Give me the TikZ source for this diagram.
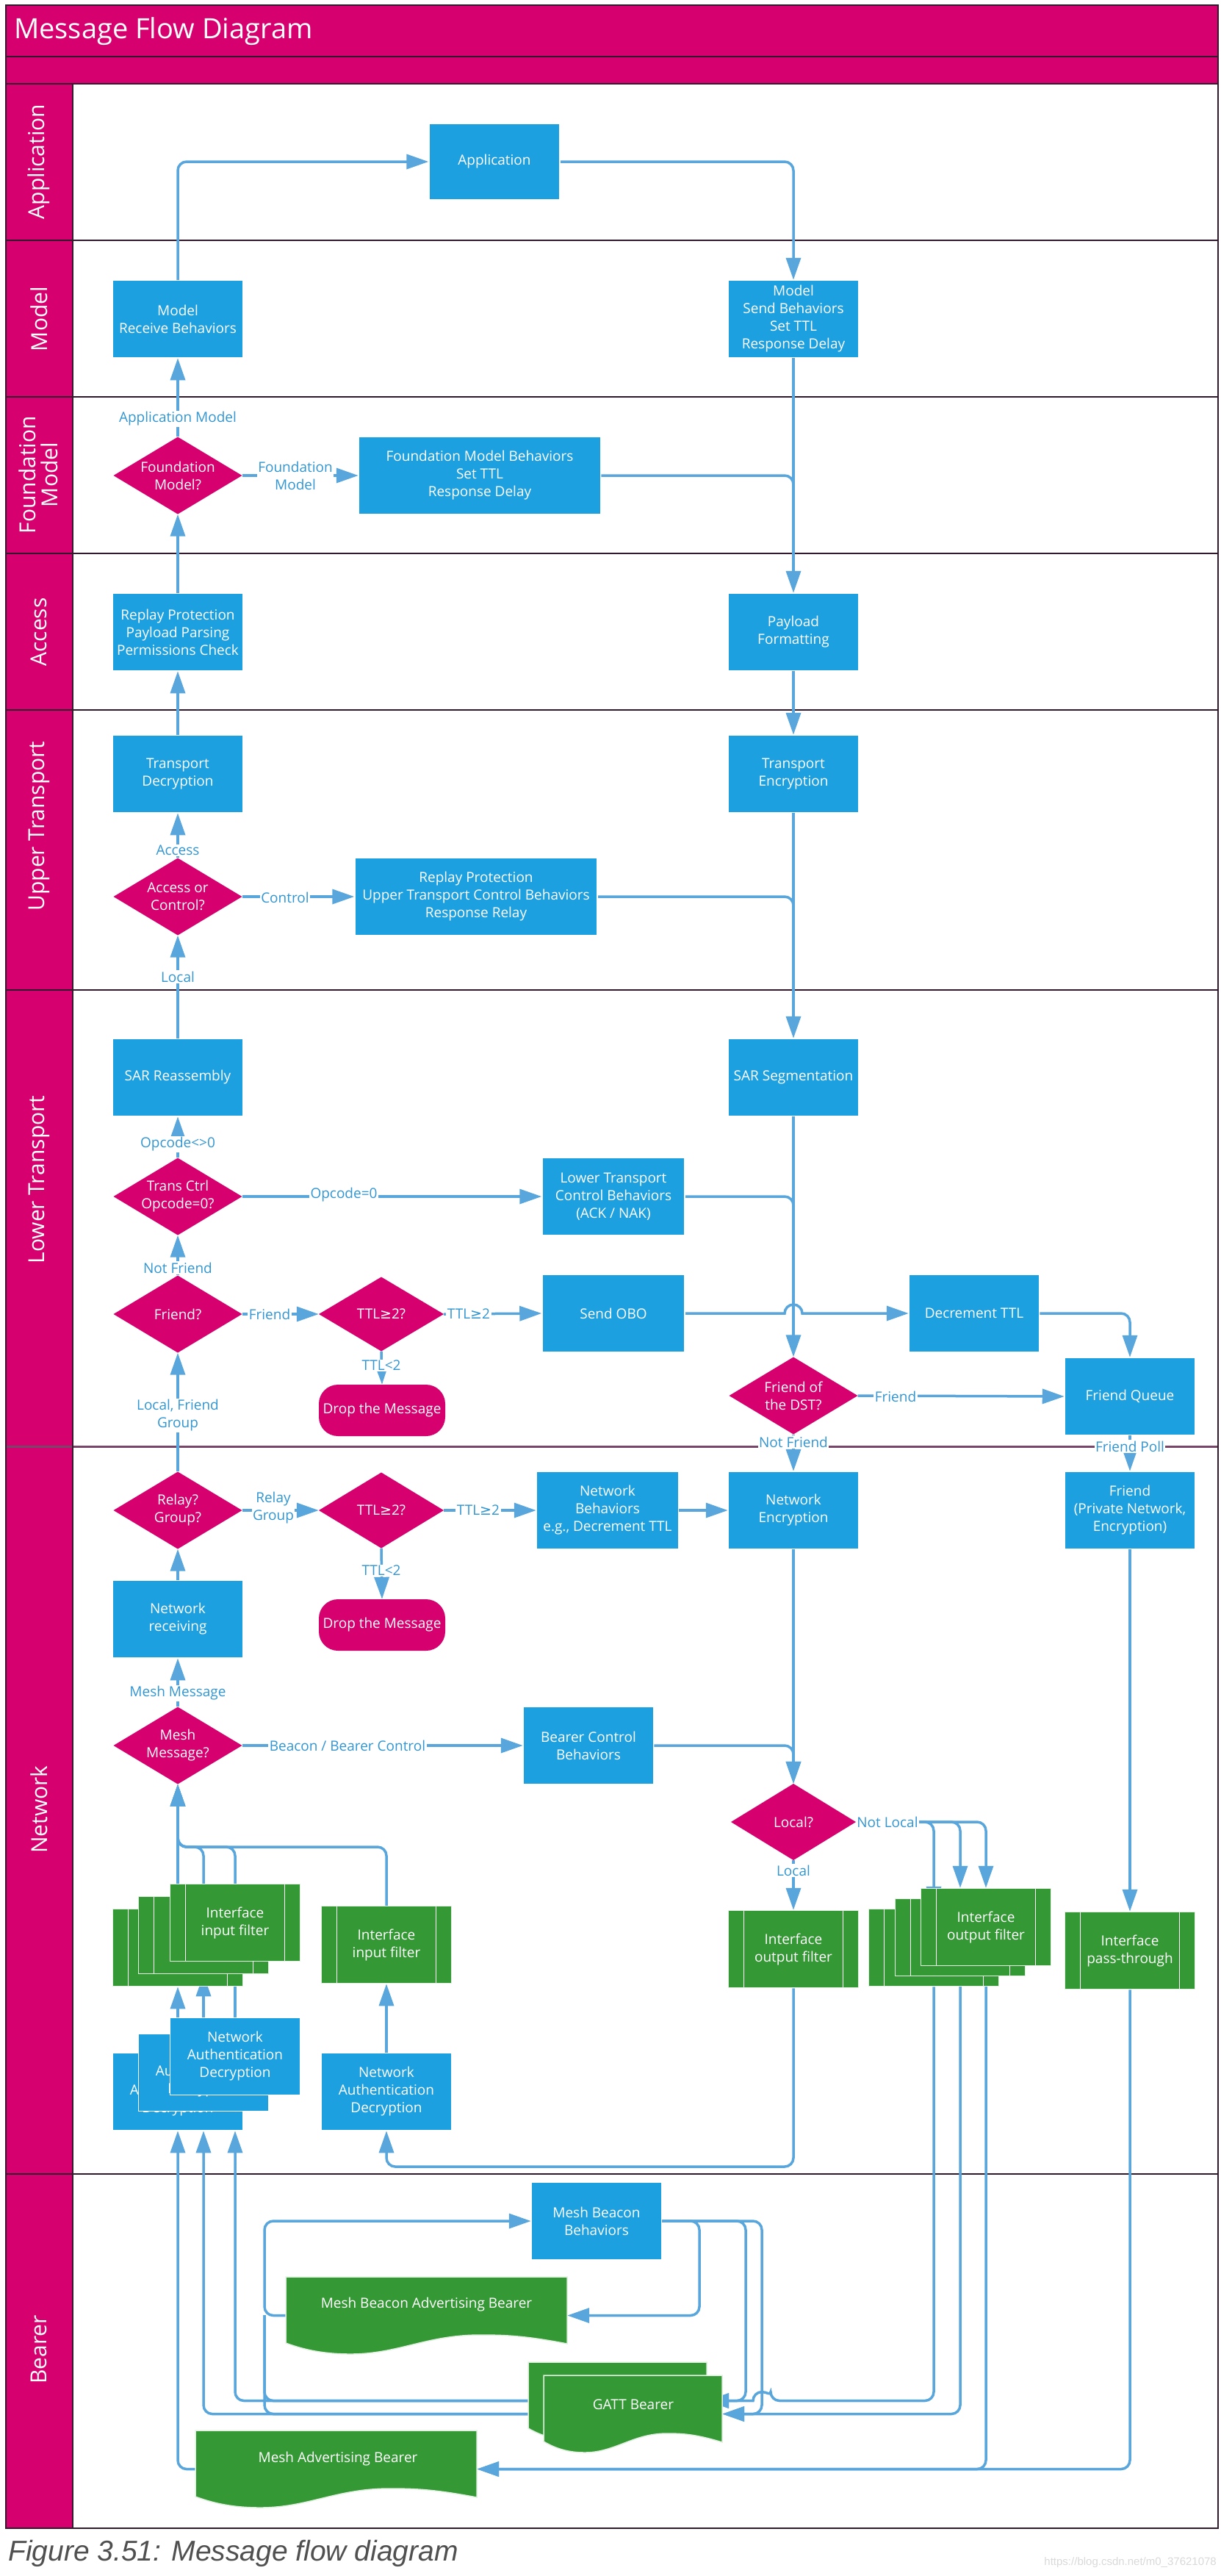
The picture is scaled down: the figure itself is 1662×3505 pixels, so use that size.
\documentclass[tikz,border=0pt]{standalone}
\usepackage{fontspec}
\setmainfont{Open Sans}
\newfontfamily\mycap{Liberation Sans}
\newfontfamily\mysym{DejaVu Sans}
\usetikzlibrary{arrows.meta}
\definecolor{cmag}{RGB}{214,0,111}
\definecolor{cblue}{RGB}{28,160,224}
\definecolor{cgreen}{RGB}{52,152,52}
\definecolor{cline}{RGB}{88,166,220}
\definecolor{clab}{RGB}{50,150,210}
\definecolor{clane}{RGB}{50,25,45}
\definecolor{clane2}{RGB}{120,70,105}
\definecolor{ccap}{RGB}{80,80,80}
\pgfdeclarelayer{bg}
\pgfdeclarelayer{edges}
\pgfsetlayers{bg,edges,main}
\newcommand\myNF{\fontsize{19}{24}\selectfont}
\newcommand\myLF{\fontsize{30}{30}\selectfont}
\newcommand\myge{{\mysym ≥}}
\newcommand\mydoc[3]{\begin{scope}[shift={(#1,#2)}]\fill[cgreen,draw=white!85!cgreen,line width=1.5pt] (0,0) -- (#3,0) -- (#3,91) .. controls (0.85*#3,80) and (0.78*#3,79) .. (0.69*#3,79) .. controls (0.5*#3,79) and (0.4*#3,105) .. (0.23*#3,105) .. controls (0.12*#3,105) and (0.05*#3,97) .. (0,90) -- cycle;\end{scope}}
\tikzset{
  box/.style={rectangle, fill=cblue, draw=white, line width=1.5pt, text=white, minimum width=177pt, minimum height=105pt, inner sep=1pt, align=center, font=\myNF},
  dia/.style={rectangle, minimum width=175pt, minimum height=105pt, inner sep=0pt, align=center, text=white, font=\myNF,
    path picture={\fill[cmag] (path picture bounding box.north) -- (path picture bounding box.east) -- (path picture bounding box.south) -- (path picture bounding box.west) -- cycle;}},
  gbox/.style={box, fill=cgreen, draw=white!85!cgreen,
    path picture={\draw[white, line width=1.5pt] ([xshift=21pt]path picture bounding box.north west) -- ([xshift=21pt]path picture bounding box.south west) ([xshift=-21pt]path picture bounding box.north east) -- ([xshift=-21pt]path picture bounding box.south east);}},
  term/.style={rectangle, rounded corners=26pt, fill=cmag, text=white, minimum width=172pt, minimum height=70pt, font=\myNF, inner sep=1pt},
  ghost/.style={rectangle, inner sep=0pt, minimum height=105pt},
  doctext/.style={text=white, font=\myNF, inner sep=0pt},
  con/.style={draw=cline, line width=3.5pt, rounded corners=12pt},
  arr/.style={con, -{Triangle[length=30pt,width=20pt]}},
  elab/.style={fill=white, text=clab, font=\myNF, inner sep=1.5pt, align=center},
  lane/.style={text=white, font=\myLF, rotate=90, align=center, inner sep=0pt}
}
\begin{document}
\begin{tikzpicture}[x=1pt,y=-1pt]
\useasboundingbox (0,0) rectangle (1662,3505);
\begin{pgfonlayer}{bg}
\fill[white] (0,0) rectangle (1662,3505);
\fill[cmag] (8,7) rectangle (1658,114);
\fill[cmag] (8,114) rectangle (99,3440);
\foreach \yy in {77,114,327,540,753,966,1347,2958} \draw[clane, line width=2pt] (8,\yy) -- (1658,\yy);
\draw[clane2, line width=3pt] (8,1968) -- (1658,1968);
\draw[clane, line width=2pt] (99,114) -- (99,3440);
\draw[clane, line width=2pt] (8,7) rectangle (1658,3440);
\end{pgfonlayer}

% title, lanes
\node[anchor=west, inner sep=0pt, text=white, font=\fontsize{38}{40}\selectfont] (title) at (19,43) {Message Flow Diagram};
\node[lane] (l1) at (53,220) {Application};
\node[lane] (l2) at (53,434) {Model};
\node[lane] (l3) at (52,646) {Foundation\\Model};
\node[lane] (l4) at (53,860) {Access};
\node[lane] (l5) at (53,1124) {Upper Transport};
\node[lane] (l6) at (53,1605) {Lower Transport};
\node[lane] (l7) at (53,2462) {Network};
\node[lane] (l8) at (53,3197) {Bearer};

% nodes
\node[box, minimum width=178pt, minimum height=104pt] (app) at (673,220) {Application};
\node[box] (mrecv) at (242,434) {Model\\Receive Behaviors};
\node[box] (msend) at (1080,434) {Model\\Send Behaviors\\Set TTL\\Response Delay};
\node[dia] (fmq) at (242,647) {Foundation\\Model?};
\node[box, minimum width=329pt] (fmb) at (653,647) {Foundation Model Behaviors\\Set TTL\\Response Delay};
\node[box] (replay) at (242,860) {Replay Protection\\Payload Parsing\\Permissions Check};
\node[box] (payload) at (1080,860) {Payload\\Formatting};
\node[box] (tdec) at (242,1053) {Transport\\Decryption};
\node[box] (tenc) at (1080,1053) {Transport\\Encryption};
\node[dia] (aoc) at (242,1220) {Access or\\Control?};
\node[box, minimum width=330pt] (utc) at (648,1220) {Replay Protection\\Upper Transport Control Behaviors\\Response Relay};
\node[box] (sarr) at (242,1466) {SAR Reassembly};
\node[box] (sars) at (1080,1466) {SAR Segmentation};
\node[dia] (tco) at (242,1628) {Trans Ctrl\\Opcode=0?};
\node[box, minimum width=194pt] (ltc) at (835,1628) {Lower Transport\\Control Behaviors\\(ACK / NAK)};
\node[dia] (friend) at (242,1788) {Friend?};
\node[dia, minimum width=170pt, minimum height=101pt] (ttl1) at (519,1788) {TTL\myge2?};
\node[box, minimum width=194pt] (obo) at (835,1787) {Send OBO};
\node[box] (dttl) at (1326,1787) {Decrement TTL};
\node[term] (drop1) at (520,1919) {Drop the Message};
\node[dia] (fdst) at (1080,1899) {Friend of\\the DST?};
\node[box] (fq) at (1538,1900) {Friend Queue};
\node[dia] (relay) at (242,2055) {Relay?\\Group?};
\node[dia, minimum width=170pt, minimum height=103pt] (ttl2) at (519,2055) {TTL\myge2?};
\node[box, minimum width=193pt] (nb) at (827,2055) {Network\\Behaviors\\e.g., Decrement TTL};
\node[box] (nenc) at (1080,2055) {Network\\Encryption};
\node[box] (fr) at (1538,2055) {Friend\\(Private Network,\\Encryption)};
\node[box] (nrecv) at (242,2203) {Network\\receiving};
\node[term] (drop2) at (520,2211) {Drop the Message};
\node[dia] (mesh) at (242,2375) {Mesh\\Message?};
\node[box] (bcb) at (801,2375) {Bearer Control\\Behaviors};
\node[dia, minimum width=170pt, minimum height=104pt] (local) at (1080,2479) {Local?};
\node[gbox] (outs) at (1080,2652) {Interface\\output filter};
\node[gbox] (ob) at (1271,2650) {};
\node[gbox] (om) at (1307,2636) {};
\node[gbox] (of) at (1342,2622) {Interface\\output filter};
\node[gbox] (pt) at (1538,2654) {Interface\\pass-through};
\node[gbox] (ib) at (242,2650) {};
\node[gbox] (im) at (277,2633) {};
\node[gbox] (inf) at (320,2616) {Interface\\input filter};
\node[gbox] (is) at (526,2646) {Interface\\input filter};
\node[box] (nab) at (242,2846) {Network\\Authentication\\Decryption};
\node[box] (nam) at (277,2820) {Network\\Authentication\\Decryption};
\node[box] (naf) at (320,2798) {Network\\Authentication\\Decryption};
\node[box] (nas) at (526,2846) {Network\\Authentication\\Decryption};
\node[box] (mbb) at (812,3022) {Mesh Beacon\\Behaviors};
\mydoc{389}{3098}{383}
\node[ghost, minimum width=383pt] (mbab) at (580.5,3150.5) {};
\node[doctext] (mbabt) at (580.5,3136) {Mesh Beacon Advertising Bearer};
\mydoc{719}{3214}{243}
\node[ghost, minimum width=243pt] (gattb) at (840.5,3266.5) {};
\mydoc{740}{3232}{243}
\node[ghost, minimum width=243pt] (gattf) at (861.5,3284.5) {};
\node[doctext] (gattt) at (862,3272) {GATT Bearer};
\mydoc{266}{3307}{383}
\node[ghost, minimum width=383pt] (mab) at (457.5,3359.5) {};
\node[doctext] (mabt) at (460,3346) {Mesh Advertising Bearer};

% connectors
\begin{pgfonlayer}{edges}
\draw[arr] (mrecv.north) |- (app.west);
\draw[arr] (app.east) -| (msend.north);
\draw[arr] (fmq.north) -- (mrecv.south);
\draw[arr] (fmq.east) -- (fmb.west);
\draw[con] (fmb.east) -| (1080,700);
\draw[arr] (msend.south) -- (payload.north);
\draw[arr] (replay.north) -- (fmq.south);
\draw[arr] (tdec.north) -- (replay.south);
\draw[arr] (payload.south) -- (tenc.north);
\draw[arr] (aoc.north) -- (tdec.south);
\draw[arr] (aoc.east) -- (utc.west);
\draw[con] (utc.east) -| (1080,1270);
\draw[arr] (tenc.south) -- (sars.north);
\draw[arr] (sarr.north) -- (aoc.south);
\draw[arr] (tco.north) -- (sarr.south);
\draw[arr] (tco.east) -- (ltc.west);
\draw[con] (ltc.east) -| (1080,1680);
\draw[arr] (sars.south) -- (fdst.north);
\draw[arr] (friend.north) -- (tco.south);
\draw[arr] (friend.east) -- (ttl1.west);
\draw[arr] (ttl1.east) -- (obo.west);
\draw[arr] (ttl1.south) -- (drop1.north);
\draw[arr, sharp corners] (obo.east) -- (1068,1787) arc[start angle=180, end angle=360, radius=12] -- (dttl.west);
\draw[arr] (dttl.east) -| (fq.north);
\draw[arr] (fdst.east) -- (fq.west);
\draw[arr] (fdst.south) -- (nenc.north);
\draw[arr] (fq.south) -- (fr.north);
\draw[arr] (relay.north) -- (friend.south);
\draw[arr] (relay.east) -- (ttl2.west);
\draw[arr] (ttl2.east) -- (nb.west);
\draw[arr] (ttl2.south) -- (drop2.north);
\draw[arr] (nb.east) -- (nenc.west);
\draw[arr] (nrecv.north) -- (relay.south);
\draw[arr] (mesh.north) -- (nrecv.south);
\draw[arr] (mesh.east) -- (bcb.west);
\draw[arr] (bcb.east) -| (local.north);
\draw[arr] (nenc.south) -- (local.north);
\draw[arr] (local.south) -- (outs.north);
\draw[arr] (local.east) -| (ob.north);
\draw[arr] (local.east) -| (om |- of.north);
\draw[arr] (local.east) -| (of.north);
\draw[arr] (fr.south) -- (pt.north);
\draw[arr] (ib.north) -- (mesh.south);
\draw[arr] (im.north) -- (277,2513) -- (242,2513) -- (mesh.south);
\draw[arr] (inf.north) -- (320,2513) -- (242,2513) -- (mesh.south);
\draw[arr] (is.north) -- (526,2513) -- (242,2513) -- (mesh.south);
\draw[arr] (nab.north) -- (ib.south);
\draw[arr] (nam.north) -- (im.south);
\draw[arr] (naf.north) -- (inf.south);
\draw[arr] (nas.north) -- (is.south);
\draw[arr] (outs.south) -- (1080,2948) -- (526,2948) -- (nas.south);
\draw[arr] (mab.west) -| (nab.south);
\draw[arr] (gattf.west) -| (nam |- nab.south);
\draw[arr] (gattb.west) -| (naf |- nab.south);
\draw[arr] (mbab.west) -| (360,3100) |- (mbb.west);
\draw[con] (gattf.west) -| (360,3150);
\draw[con] (gattb.west) -| (360,3150);
\draw[arr] (mbb.east) -| (952,3100) |- (mbab.east);
\draw[arr] (mbb.east) -| (1015,3200) |- (gattb.east);
\draw[arr] (mbb.east) -| (1037,3200) |- (gattf.east);
\draw[arr] (ob.south) -- (1271,3266.5) -- (1049,3266.5) [sharp corners] arc[start angle=0, end angle=-180, radius=12] -- (gattb.east);
\draw[arr] (om.south) |- (gattf.east);
\draw[arr] (of.south) |- (mab.east);
\draw[arr] (pt.south) |- (mab.east);
\end{pgfonlayer}

% connector labels
\node[elab] (t1) at (242,570) {Application Model};
\node[elab] (t2) at (402,647) {Foundation\\Model};
\node[elab] (t3) at (242,1157) {Access};
\node[elab] (t4) at (388,1221) {Control};
\node[elab] (t5) at (242,1329) {Local};
\node[elab] (t6) at (242,1557) {Opcode<>0};
\node[elab] (t7) at (468,1626) {Opcode=0};
\node[elab] (t8) at (242,1725) {Not Friend};
\node[elab] (t9) at (367,1788) {Friend};
\node[elab] (t10) at (638,1788) {TTL\myge2};
\node[elab] (t11) at (519,1858) {TTL<2};
\node[elab] (t12) at (242,1926) {Local, Friend\\Group};
\node[elab] (t13) at (1219,1900) {Friend};
\node[elab] (t14) at (1080,1962) {Not Friend};
\node[elab] (t15) at (1538,1968) {Friend Poll};
\node[elab] (t16) at (372,2052) {Relay\\Group};
\node[elab] (t17) at (651,2055) {TTL\myge2};
\node[elab] (t18) at (519,2137) {TTL<2};
\node[elab] (t19) at (242,2304) {Mesh Message};
\node[elab] (t20) at (473,2375) {Beacon / Bearer Control};
\node[elab] (t21) at (1208,2479) {Not Local};
\node[elab] (t22) at (1080,2545) {Local};

% caption
\node[anchor=west, inner sep=0pt, text=ccap, font=\mycap\itshape\fontsize{39}{42}\selectfont] (cap) at (11,3474) {Figure 3.51: Message flow diagram};
\node[anchor=east, inner sep=0pt, text=black!15, font=\mycap\fontsize{15}{16}\selectfont] (wm) at (1656,3487) {https://blog.csdn.net/m0\_37621078};
\end{tikzpicture}
\end{document}
